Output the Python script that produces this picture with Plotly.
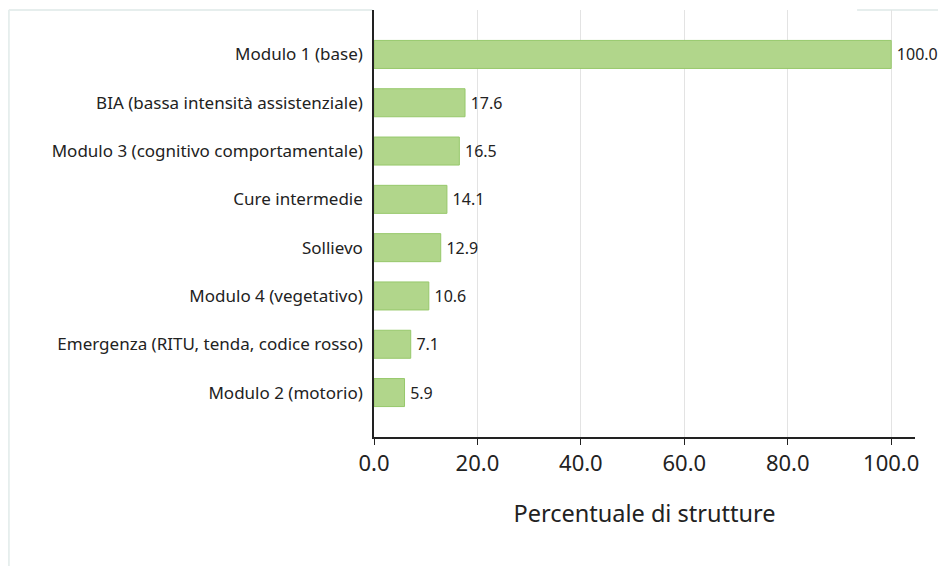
import plotly.graph_objects as go

categories = [
    "Modulo 1 (base)",
    "BIA (bassa intensità assistenziale)",
    "Modulo 3 (cognitivo comportamentale)",
    "Cure intermedie",
    "Sollievo",
    "Modulo 4 (vegetativo)",
    "Emergenza (RITU, tenda, codice rosso)",
    "Modulo 2 (motorio)",
]
values = [100.0, 17.6, 16.5, 14.1, 12.9, 10.6, 7.1, 5.9]
x_ticks = [0, 20, 40, 60, 80, 100]
x_tick_labels = ["0.0", "20.0", "40.0", "60.0", "80.0", "100.0"]

FONT = "Noto Sans"

fig = go.Figure(
    go.Bar(
        x=values,
        y=categories,
        orientation="h",
        width=0.58,
        marker=dict(color="#b1d68b", line=dict(color="#97c86b", width=1)),
        text=[f"{v:.1f}" for v in values],
        texttemplate="\u2009%{text}",
        textposition="outside",
        textfont=dict(family=FONT, size=16, color="#222222"),
        cliponaxis=False,
        hoverinfo="skip",
    )
)

fig.update_layout(
    width=938,
    height=558,
    margin=dict(l=366, r=31, t=2, b=129),
    paper_bgcolor="white",
    plot_bgcolor="white",
    showlegend=False,
    font=dict(family=FONT, color="#222222"),
    xaxis=dict(
        range=[0, 104.6],
        tickvals=x_ticks,
        ticktext=x_tick_labels,
        tickfont=dict(family=FONT, size=22, color="#222222"),
        showgrid=True,
        gridcolor="#e3e3e3",
        gridwidth=1,
        zeroline=False,
        showline=True,
        linecolor="#222222",
        linewidth=1.5,
        ticks="outside",
        ticklen=6,
        tickcolor="#222222",
        title=dict(
            text="Percentuale di strutture",
            font=dict(family=FONT, size=23.5, color="#222222"),
            standoff=29,
        ),
    ),
    yaxis=dict(
        categoryorder="array",
        categoryarray=categories,
        range=[7.92, -0.92],
        tickfont=dict(family=FONT, size=17, color="#222222"),
        showgrid=False,
        zeroline=False,
        showline=True,
        linecolor="#222222",
        linewidth=1.5,
        ticks="",
        ticklabelstandoff=6,
    ),
    shapes=[
        dict(type="line", xref="paper", yref="paper", x0=-0.675, x1=-0.675, y0=1.0, y1=-0.5,
             line=dict(color="#e6eeed", width=2), layer="below"),
        dict(type="line", xref="paper", yref="paper", x0=-0.675, x1=-0.003, y0=1.0, y1=1.0,
             line=dict(color="#e6eeed", width=2), layer="below"),
        dict(type="line", xref="paper", yref="paper", x0=0.893, x1=1.1, y0=1.0, y1=1.0,
             line=dict(color="#e6eeed", width=2), layer="below"),
    ],
)

fig.write_html("out.html")
